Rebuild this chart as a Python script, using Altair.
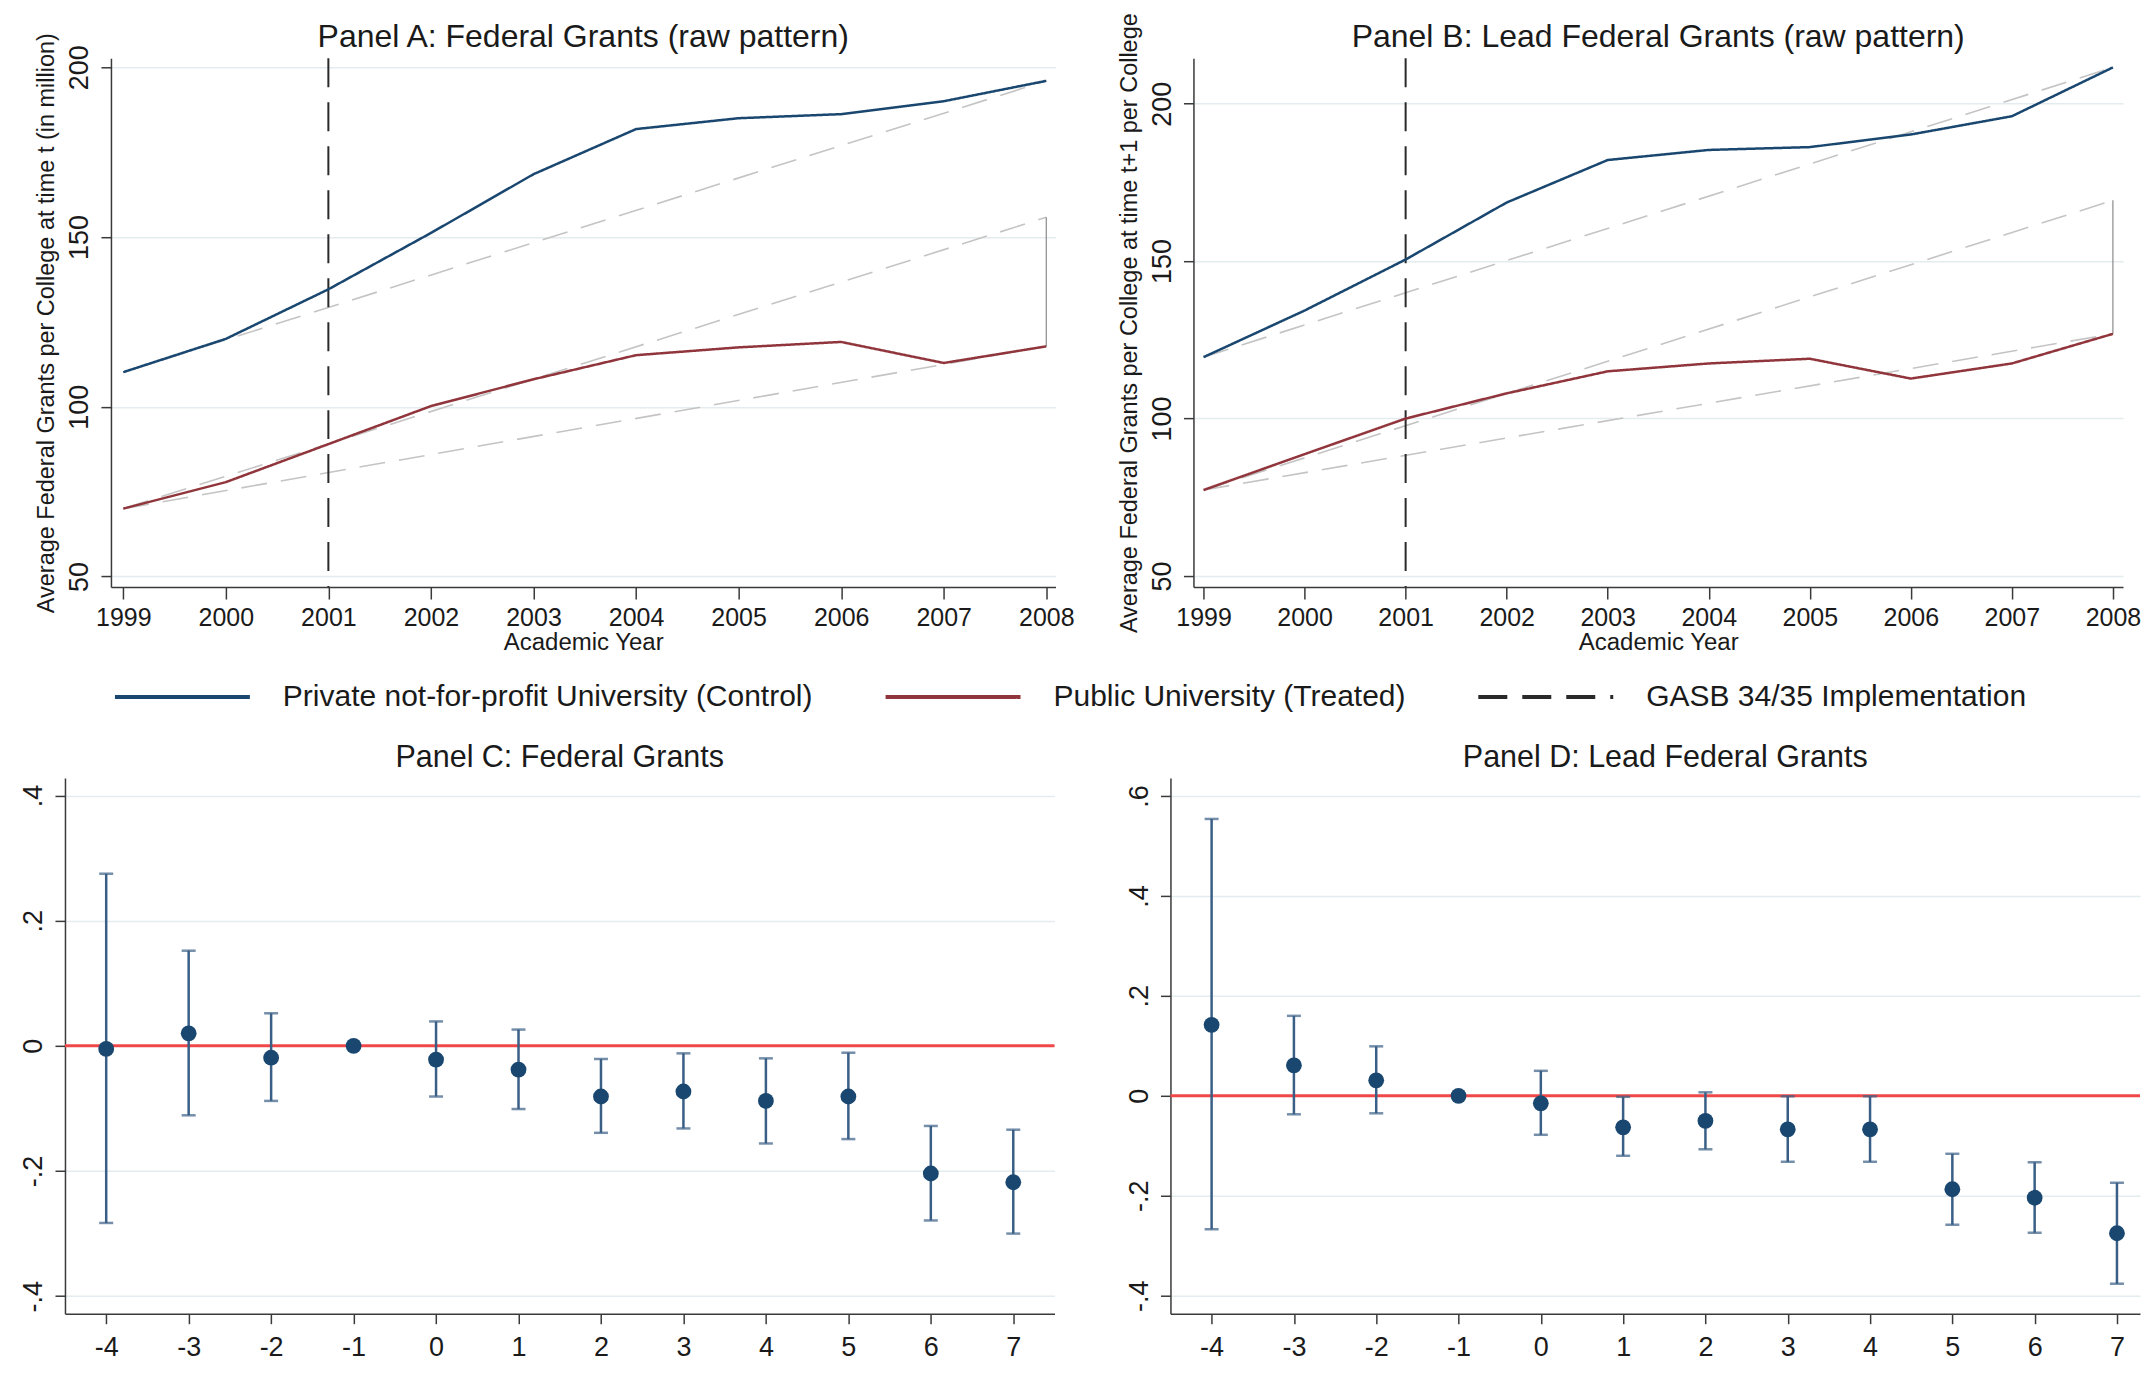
import altair as alt
import pandas as pd

# ---------------- data ----------------
years = [1999, 2000, 2001, 2002, 2003, 2004, 2005, 2006, 2007, 2008]

a_private = [110.2, 120.0, 134.6, 151.2, 168.5, 181.8, 185.0, 186.2, 190.0, 196.0]
a_public = [70.0, 77.8, 89.0, 100.2, 108.1, 115.2, 117.5, 119.1, 112.9, 117.8]
b_private = [119.5, 134.3, 150.5, 168.6, 182.1, 185.3, 186.2, 190.2, 196.0, 211.5]
b_public = [77.3, 88.7, 100.0, 108.0, 115.0, 117.5, 119.0, 112.7, 117.5, 126.9]

# grey dashed reference segments: (value at 1999, value at 2008)
a_trend_start = [110.2, 70.0, 70.0]
a_trend_end = [196.0, 155.8, 117.8]
b_trend_start = [119.5, 77.3, 77.3]
b_trend_end = [211.5, 169.3, 126.9]
trend_years = [1999, 2008]

# vertical gap line at 2008
a_gap = [117.8, 155.8]
b_gap = [126.9, 169.3]

gasb_year = [2001]

rel_time = [-4, -3, -2, -1, 0, 1, 2, 3, 4, 5, 6, 7]
c_coef = [-0.005, 0.020, -0.019, 0.0, -0.022, -0.038, -0.081, -0.073, -0.088, -0.081, -0.204, -0.218]
c_lo = [-0.283, -0.111, -0.088, None, -0.081, -0.101, -0.139, -0.132, -0.156, -0.149, -0.279, -0.300]
c_hi = [0.275, 0.152, 0.052, None, 0.039, 0.026, -0.021, -0.012, -0.020, -0.011, -0.128, -0.134]
d_coef = [0.142, 0.061, 0.031, 0.0, -0.015, -0.063, -0.050, -0.067, -0.067, -0.187, -0.204, -0.275]
d_lo = [-0.267, -0.037, -0.035, None, -0.078, -0.120, -0.107, -0.132, -0.132, -0.258, -0.274, -0.376]
d_hi = [0.554, 0.160, 0.099, None, 0.050, -0.002, 0.007, -0.001, -0.001, -0.116, -0.133, -0.174]

series_names = ["Private not-for-profit University (Control)",
                "Public University (Treated)",
                "GASB 34/35 Implementation"]

# ---------------- style ----------------
FONT = "Liberation Sans, Arial, sans-serif"
BLUE = "#1a476f"
RED = "#90353b"
GASB_COL = "#2a2a2a"
BAR = "#3a5f86"
ZERO = "#f04848"
GRID = "#e3ecee"
AXC = "#3a3a3a"
TXT = "#1a1a1a"
TREND = "#c4c4c4"
GASB_DASH = [29, 15]

PAD_L, PAD_T = 12, 4

color_scale = alt.Scale(domain=series_names, range=[BLUE, RED, GASB_COL])
dash_scale = alt.Scale(domain=series_names, range=[[1, 0], [1, 0], GASB_DASH])

legend = alt.Legend(
    orient="none", legendX=48, legendY=622,
    direction="horizontal", columns=3,
    title=None, symbolType="M-1,0L8,0", symbolSize=900, symbolStrokeWidth=4,
    labelFontSize=30, labelFont=FONT, labelColor=TXT, labelLimit=0,
    labelOffset=136, columnPadding=64, padding=0,
)


def title_params(text, size, dy, dx=0):
    return alt.TitleParams(text, fontSize=size, font=FONT, fontWeight="normal", color=TXT,
                           frame="group", anchor="middle", baseline="bottom",
                           offset=3, dy=dy, dx=dx)


def raw_panel(title, ytitle, priv, pub, t_start, t_end, gap, ydomain, xdomain,
              width, height, title_dy):
    xaxis = alt.Axis(values=years, format="d", title="Academic Year", grid=False,
                     tickSize=12, labelPadding=6, labelFontSize=25, titleFontSize=24,
                     titlePadding=0, labelFlush=False, labelOverlap=False,
                     titleFontWeight="normal")
    yaxis = alt.Axis(values=[50, 100, 150, 200], title=ytitle, grid=True,
                     gridColor=GRID, gridWidth=1.5, tickSize=10, labelPadding=7,
                     labelFontSize=27, labelAngle=270, labelAlign="center",
                     labelBaseline="bottom", titleFontSize=23.5, titlePadding=7,
                     labelFlush=False, labelOverlap=False, titleFontWeight="normal")
    xs = alt.Scale(domain=xdomain, nice=False, zero=False)
    ys = alt.Scale(domain=ydomain, nice=False, zero=False)

    rows = []
    for y, p, q in zip(years, priv, pub):
        rows.append({"year": y, "value": p, "series": series_names[0]})
        rows.append({"year": y, "value": q, "series": series_names[1]})
    lines_df = pd.DataFrame(rows)

    trows = []
    for i, (s, e) in enumerate(zip(t_start, t_end)):
        trows.append({"seg": i, "year": trend_years[0], "value": s})
        trows.append({"seg": i, "year": trend_years[1], "value": e})
    trend_df = pd.DataFrame(trows)

    gap_df = pd.DataFrame({"year": [years[-1]], "lo": [gap[0]], "hi": [gap[1]]})
    gasb_df = pd.DataFrame({"year": gasb_year, "series": [series_names[2]]})

    X = lambda f: alt.X(f, scale=xs, axis=xaxis)
    Y = lambda f: alt.Y(f, scale=ys, axis=yaxis)
    col = alt.Color("series:N", scale=color_scale, legend=legend)
    dsh = alt.StrokeDash("series:N", scale=dash_scale, legend=legend)

    trend = alt.Chart(trend_df).mark_line(color=TREND, strokeWidth=1.6,
                                          strokeDash=[26, 14]).encode(
        x=X("year:Q"), y=Y("value:Q"), detail="seg:N")
    gapl = alt.Chart(gap_df).mark_rule(color="#8a8a8a", strokeWidth=1.2).encode(
        x=X("year:Q"), y=Y("lo:Q"), y2="hi:Q")
    gasb = alt.Chart(gasb_df).mark_rule(strokeWidth=2).encode(
        x=X("year:Q"), color=col, strokeDash=dsh)
    lines = alt.Chart(lines_df).mark_line(strokeWidth=2.5).encode(
        x=X("year:Q"), y=Y("value:Q"), color=col, strokeDash=dsh, order="year:Q")
    return alt.layer(trend, gapl, gasb, lines).properties(
        width=width, height=height, title=title_params(title, 32, title_dy))


LABEL_EXPR_X = "'' + datum.value"
LABEL_EXPR_Y = "datum.value == 0 ? '0' : replace('' + datum.value, '0.', '.')"


def coef_panel(title, coef, lo, hi, ydomain, yvals, xdomain, width, height, dx=0):
    xaxis = alt.Axis(values=rel_time, title=None, grid=False,
                     tickSize=10, labelPadding=11, labelFontSize=27,
                     labelFlush=False, labelOverlap=False, labelExpr=LABEL_EXPR_X)
    yaxis = alt.Axis(values=yvals, title=None, grid=True, gridColor=GRID, gridWidth=1.5,
                     tickSize=10, labelPadding=7, labelFontSize=27, labelAngle=270,
                     labelAlign="center", labelBaseline="bottom",
                     labelFlush=False, labelOverlap=False, labelExpr=LABEL_EXPR_Y)
    xs = alt.Scale(domain=xdomain, nice=False, zero=False)
    ys = alt.Scale(domain=ydomain, nice=False, zero=False)
    X = lambda f: alt.X(f, scale=xs, axis=xaxis)
    Y = lambda f: alt.Y(f, scale=ys, axis=yaxis)

    df = pd.DataFrame({"rel": rel_time, "coef": coef, "lo": lo, "hi": hi})
    ci = alt.Chart(df).transform_filter("isValid(datum.lo)")
    zero_df = pd.DataFrame({"zero": [0.0]})

    zline = alt.Chart(zero_df).mark_rule(color=ZERO, strokeWidth=3).encode(y=Y("zero:Q"))
    bars = ci.mark_rule(color=BAR, strokeWidth=2.5).encode(x=X("rel:Q"), y=Y("lo:Q"), y2="hi:Q")
    cap_lo = ci.mark_tick(color=BAR, orient="horizontal", size=14, thickness=2.5).encode(
        x=X("rel:Q"), y=Y("lo:Q"))
    cap_hi = ci.mark_tick(color=BAR, orient="horizontal", size=14, thickness=2.5).encode(
        x=X("rel:Q"), y=Y("hi:Q"))
    pts = alt.Chart(df).mark_circle(color=BLUE, size=250, opacity=1).encode(
        x=X("rel:Q"), y=Y("coef:Q"))
    return alt.layer(zline, bars, cap_lo, cap_hi, pts).properties(
        width=width, height=height, title=title_params(title, 30.5, 29, dx))


panel_a = raw_panel("Panel A: Federal Grants (raw pattern)",
                    "Average Federal Grants per College at time t (in million)",
                    a_private, a_public, a_trend_start, a_trend_end, a_gap,
                    [46.9, 202.65], [1998.88, 2008.09], 945, 529, 57)
panel_b = raw_panel("Panel B: Lead Federal Grants (raw pattern)",
                    "Average Federal Grants per College at time t+1 per College",
                    b_private, b_public, b_trend_start, b_trend_end, b_gap,
                    [46.5, 214.4], [1998.9, 2008.1], 930, 529, 77)
panel_c = coef_panel("Panel C: Federal Grants", c_coef, c_lo, c_hi,
                     [-0.428, 0.428], [-0.4, -0.2, 0, 0.2, 0.4], [-4.5, 7.5], 990, 536)
panel_d = coef_panel("Panel D: Lead Federal Grants", d_coef, d_lo, d_hi,
                     [-0.436, 0.636], [-0.4, -0.2, 0, 0.2, 0.4, 0.6], [-4.5, 7.28], 970, 536, dx=10)

# empty layout spacer (shifts the top row right of the bottom row, as in the original)
spacer = alt.Chart(pd.DataFrame({"s": [0]})).mark_point(opacity=0).properties(width=46, height=529)

top_pair = alt.hconcat(panel_a, panel_b, spacing=138, bounds="flush")
top_row = alt.hconcat(spacer, top_pair, spacing=0, bounds="flush")
bottom_pair = alt.hconcat(panel_c, panel_d, spacing=116, bounds="flush")

# the nested top row counts as zero height in a flush layout, so the gap
# includes the top panels' height (529) plus the 191px between the rows
chart = alt.vconcat(top_row, bottom_pair, spacing=720, bounds="flush").properties(
    padding={"left": PAD_L, "top": PAD_T, "right": 0, "bottom": 0},
    background="white",
).configure_view(stroke=None).configure_axis(
    domainColor=AXC, tickColor=AXC, domainWidth=1.5, tickWidth=1.5,
    labelColor=TXT, titleColor=TXT, labelFont=FONT, titleFont=FONT,
    titleFontWeight="normal"
)

chart.save("out.html", embed_options={"renderer": "svg", "actions": False})
